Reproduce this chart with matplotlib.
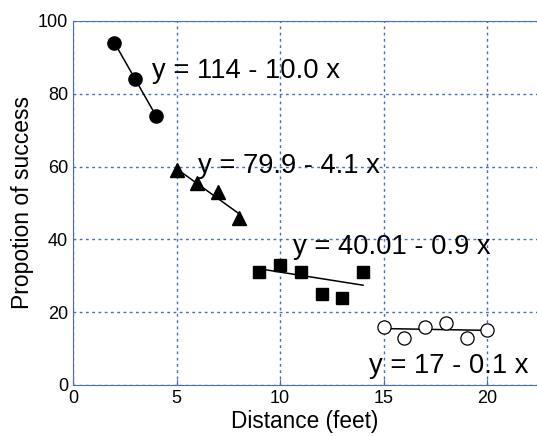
import matplotlib.pyplot as plt
import numpy as np

plt.rcParams['font.family'] = ['Liberation Sans', 'DejaVu Sans']

# data
x_circ = [2, 3, 4]
y_circ = [94, 84, 74]
x_tri = [5, 6, 7, 8]
y_tri = [59, 55.5, 53, 46]
x_sq = [9, 10, 11, 12, 13, 14]
y_sq = [31, 33, 31, 25, 24, 31]
x_open = [15, 16, 17, 18, 19, 20]
y_open = [16, 13, 16, 17, 13, 15]

# fitted lines: (intercept, slope, label)
fits = [(114, -10.0, 'y = 114 - 10.0 x'),
        (79.9, -4.1, 'y = 79.9 - 4.1 x'),
        (40.01, -0.9, 'y = 40.01 - 0.9 x'),
        (17, -0.1, 'y = 17 - 0.1 x')]
label_pos = [(3.8, 84.4), (6.05, 58.2), (10.6, 36.0), (14.3, 3.4)]

blue = '#4a6cc0'

fig = plt.figure(figsize=(5.37, 4.36), dpi=100)
ax = fig.add_axes([0.136, 0.117, 0.864, 0.835])

groups = [(x_circ, y_circ, dict(marker='o', mfc='black', ms=9.5)),
          (x_tri, y_tri, dict(marker='^', mfc='black', ms=9.5)),
          (x_sq, y_sq, dict(marker='s', mfc='black', ms=8.5)),
          (x_open, y_open, dict(marker='o', mfc='white', ms=9.5, mew=0.9))]

for (xs, ys, style), (b, m, txt), (tx, ty) in zip(groups, fits, label_pos):
    xl = np.array([xs[0], xs[-1]])
    ax.plot(xl, b + m * xl, color='black', lw=1.1, zorder=2)
    ax.plot(xs, ys, ls='none', mec='black', zorder=3, **style)
    ax.text(tx, ty, txt, fontsize=19.7, color='black', zorder=4)

ax.set_xlim(0, 22.4)
ax.set_ylim(0, 100)
ax.set_xticks([0, 5, 10, 15, 20])
ax.set_yticks([0, 20, 40, 60, 80, 100])
ax.grid(True, color=blue, ls=(0, (2, 2.5)), lw=1)
ax.set_axisbelow(True)

for side in ['left', 'bottom', 'top']:
    ax.spines[side].set_color(blue)
ax.spines['right'].set_visible(False)

ax.tick_params(axis='both', direction='in', length=4, color=blue, labelsize=13)
ax.tick_params(axis='y', length=0)

ax.set_xlabel('Distance (feet)', fontsize=16.3, labelpad=2)
ax.set_ylabel('Propotion of success', fontsize=16.5, labelpad=3)

fig.savefig('out.png', dpi=100)
